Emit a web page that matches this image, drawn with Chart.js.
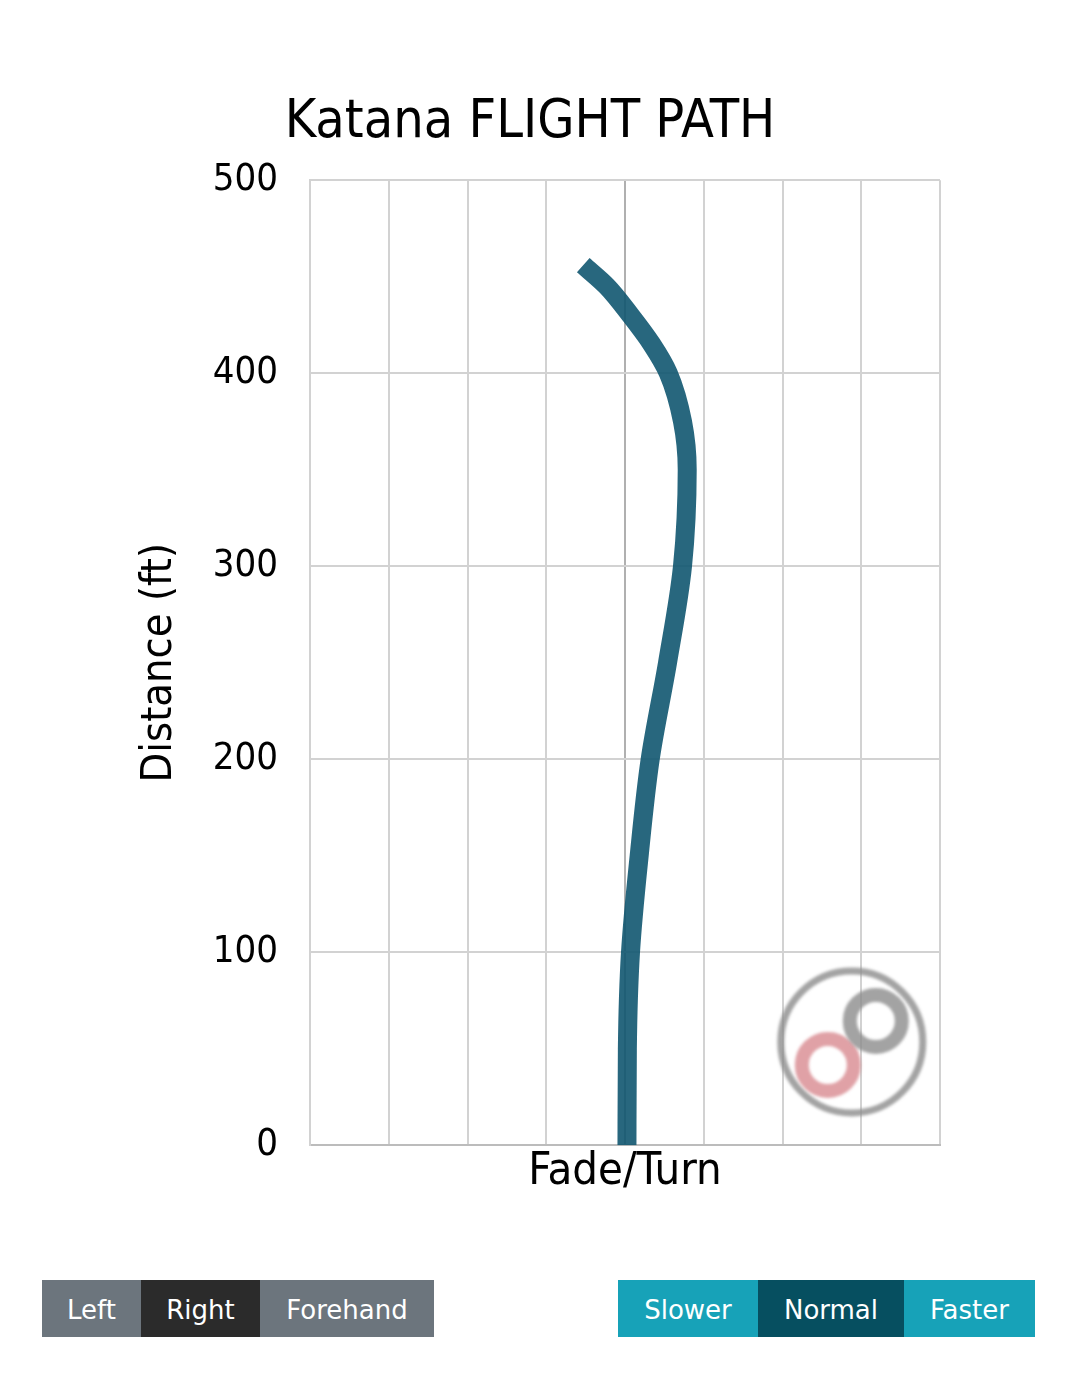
<!DOCTYPE html>
<html>
<head>
<meta charset="utf-8">
<script src="https://cdn.jsdelivr.net/npm/chart.js@4.4.1/dist/chart.umd.min.js"></script>
<style>
  body { margin: 0; background: #fff; width: 1076px; height: 1375px; position: relative; }
  #wrap { position: absolute; left: 0; top: 0; width: 1060px; height: 1200px; }
  .grp { position: absolute; top: 1280px; display: flex; }
  .grp span {
    display: block; height: 57px; line-height: 61px; text-align: center; overflow: hidden;
    color: #fff; font-family: "DejaVu Sans", sans-serif; font-size: 26px;
  }
  .gray { background: #6c757d; }
  .dark { background: #2b2b2b; }
  .info { background: #17a2b8; }
  .deep { background: #064f60; }
</style>
</head>
<body>
<div id="wrap"><canvas id="flightChart"></canvas></div>

<div class="grp" style="left:42px">
  <span class="gray" style="width:99px">Left</span>
  <span class="dark" style="width:119px">Right</span>
  <span class="gray" style="width:174px">Forehand</span>
</div>
<div class="grp" style="left:618px">
  <span class="info" style="width:140px">Slower</span>
  <span class="deep" style="width:146px">Normal</span>
  <span class="info" style="width:131px">Faster</span>
</div>

<script>
// datos del vuelo (distancia en pies, desvio fade/turn)
const distances = [0, 50, 100, 150, 200, 250, 300, 350, 375, 400, 415, 430, 445, 456];
const fades     = [0.025, 0.03, 0.07, 0.18, 0.32, 0.54, 0.73, 0.79, 0.73, 0.55, 0.34, 0.07, -0.23, -0.53];
const yTicks = [0, 100, 200, 300, 400, 500];
const xRange = [-4, 4];

const chartFont = '"DejaVu Sans Condensed", "DejaVu Sans", sans-serif';

// logo de fondo (marca de agua)
const logoPlugin = {
  id: 'logo',
  beforeDatasetsDraw(chart) {
    const { ctx, chartArea: a } = chart;
    const cx = a.left + (a.right - a.left) * 0.86;
    const cy = a.top + (a.bottom - a.top) * 0.893;
    ctx.save();
    ctx.filter = 'blur(1.5px)';
    ctx.globalAlpha = 0.8;
    ctx.strokeStyle = '#8c8c8c';
    ctx.lineWidth = 7;
    ctx.beginPath();
    ctx.arc(cx, cy, 71, 0, Math.PI * 2);
    ctx.stroke();
    ctx.lineWidth = 14;
    ctx.strokeStyle = '#d88a90';
    ctx.beginPath();
    ctx.arc(cx - 24, cy + 23, 26, 0, Math.PI * 2);
    ctx.stroke();
    ctx.strokeStyle = '#8c8c8c';
    ctx.beginPath();
    ctx.arc(cx + 24, cy - 21, 26, 0, Math.PI * 2);
    ctx.stroke();
    ctx.restore();
  }
};

const ctx = document.getElementById('flightChart').getContext('2d');
const flightChart = new Chart(ctx, {
  type: 'scatter',
  data: {
    datasets: [{
      label: 'Katana',
      data: distances.map((d, i) => ({ x: fades[i], y: d })),
      indexAxis: 'y',
      showLine: true,
      borderColor: 'rgba(17, 86, 112, 0.9)',
      borderWidth: 19,
      borderCapStyle: 'butt',
      cubicInterpolationMode: 'monotone',
      pointRadius: 0,
      pointHoverRadius: 0
    }]
  },
  options: {
    responsive: true,
    maintainAspectRatio: false,
    animation: false,
    layout: { padding: 0 },
    plugins: {
      legend: { display: false },
      tooltip: { enabled: false },
      title: {
        display: true,
        text: 'Katana FLIGHT PATH',
        color: '#000',
        font: { family: chartFont, size: 53.5, weight: 'normal', lineHeight: 1.2 },
        padding: { top: 91, bottom: 25 }
      }
    },
    scales: {
      x: {
        type: 'linear',
        min: xRange[0],
        max: xRange[1],
        ticks: { display: false, stepSize: 1 },
        grid: {
          drawTicks: false,
          lineWidth: 2,
          color: c => c.tick && c.tick.value === 0 ? '#b0b0b0' : '#d2d2d2'
        },
        border: { color: '#bcbcbc', width: 2 },
        title: {
          display: true,
          text: 'Fade/Turn',
          color: '#000',
          font: { family: chartFont, size: 45, lineHeight: 1.2 },
          padding: { top: 0, bottom: 0 }
        },
        afterFit: s => { s.height = 54; }
      },
      y: {
        type: 'linear',
        min: 0,
        max: 500,
        afterBuildTicks: s => { s.ticks = yTicks.map(v => ({ value: v })); },
        ticks: {
          color: '#000',
          padding: 32,
          font: { family: chartFont, size: 38 }
        },
        grid: { drawTicks: false, lineWidth: 2, color: '#d2d2d2' },
        border: { color: '#d2d2d2', width: 2 },
        title: {
          display: true,
          text: 'Distance (ft)',
          color: '#000',
          font: { family: chartFont, size: 43, lineHeight: 1.2 },
          padding: { top: 134, bottom: 0 }
        },
        afterFit: s => { s.width = 310; }
      },
      y2: {
        position: 'right',
        min: 0,
        max: 500,
        ticks: { display: false },
        grid: { display: false, drawTicks: false },
        border: { display: false },
        afterFit: s => { s.width = 120; }
      }
    }
  },
  plugins: [logoPlugin]
});
</script>
</body>
</html>
